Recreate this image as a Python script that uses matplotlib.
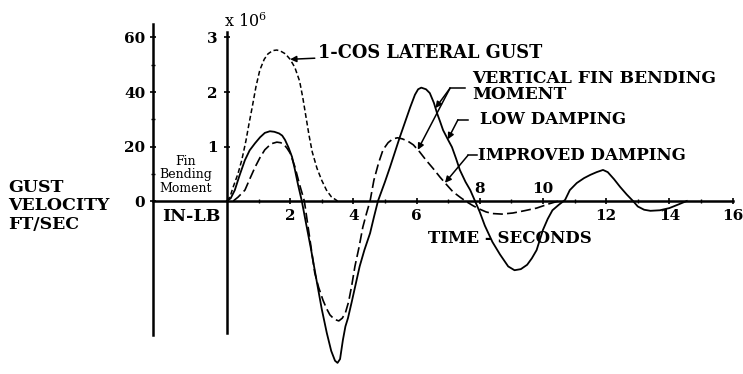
import numpy as np
import matplotlib
matplotlib.use('Agg')
import matplotlib.pyplot as plt

# 1-cos lateral gust, ft/sec
t_gust = [0, 0.1, 0.2, 0.35, 0.47, 0.6, 0.7, 0.8, 0.92, 1.04, 1.18, 1.3, 1.45, 1.58, 1.7,
          1.85, 2.0, 2.15, 2.3, 2.4, 2.5, 2.6, 2.7, 2.85, 3.0, 3.15, 3.3, 3.5]
gust_fps = [0, 1.6, 5.2, 10, 15, 22, 28.4, 34.4, 42, 48, 52, 54, 55.2, 55.4, 55,
            54, 52, 49, 44, 38, 31, 24, 18, 12, 7.6, 4, 1.6, 0]

# fin bending moment, x 10^6 in-lb, low damping
t_low = [0, 0.12, 0.25, 0.4, 0.57, 0.72, 0.89, 1.05, 1.2, 1.36, 1.5, 1.65, 1.75, 1.84,
         1.95, 2.06, 2.15, 2.25, 2.37, 2.5, 2.65, 2.85, 3.0, 3.16, 3.3, 3.42, 3.5, 3.58,
         3.67, 3.75, 3.83, 3.95, 4.2, 4.35, 4.53, 4.65, 4.78, 5.0, 5.16, 5.47, 5.8, 5.95,
         6.05, 6.15, 6.3, 6.42, 6.55, 6.65, 6.75, 6.84, 7.0, 7.12, 7.25, 7.37, 7.55, 7.7,
         7.85, 8.0, 8.16, 8.4, 8.64, 8.9, 9.1, 9.3, 9.5, 9.65, 9.8, 10.0, 10.15, 10.3,
         10.5, 10.7, 10.85, 11.07, 11.3, 11.5, 11.7, 11.9, 12.05, 12.25, 12.44, 12.65,
         12.85, 13.0, 13.2, 13.4, 13.7, 14.0, 14.3, 14.55]
m_low = [0, 0.05, 0.2, 0.47, 0.75, 0.93, 1.06, 1.17, 1.25, 1.28, 1.27, 1.24, 1.2, 1.12,
         0.98, 0.81, 0.58, 0.3, 0, -0.4, -0.85, -1.5, -1.98, -2.42, -2.75, -2.93, -2.97, -2.9,
         -2.55, -2.3, -2.15, -1.85, -1.2, -0.9, -0.59, -0.3, 0, 0.35, 0.62, 1.17, 1.72, 1.95,
         2.05, 2.08, 2.05, 1.98, 1.8, 1.61, 1.45, 1.3, 1.12, 0.99, 0.78, 0.57, 0.35, 0.2,
         0, -0.2, -0.45, -0.75, -0.98, -1.2, -1.27, -1.25, -1.17, -1.05, -0.9, -0.53, -0.33, -0.17,
         -0.07, 0.02, 0.2, 0.33, 0.42, 0.48, 0.53, 0.57, 0.53, 0.4, 0.26, 0.12,
         0, -0.1, -0.16, -0.18, -0.17, -0.13, -0.06, 0]

# fin bending moment, improved damping
t_imp = [0.2, 0.35, 0.57, 0.72, 0.89, 1.05, 1.2, 1.4, 1.58, 1.7, 1.8, 1.9, 2.0, 2.15, 2.3,
         2.45, 2.6, 2.78, 2.9, 3.04, 3.15, 3.26, 3.4, 3.54, 3.65, 3.75, 3.85, 3.95, 4.05,
         4.18, 4.3, 4.42, 4.53, 4.65, 4.8, 4.94, 5.1, 5.25, 5.4, 5.55, 5.72, 5.9, 6.1, 6.3,
         6.52, 6.74, 6.95, 7.15, 7.4, 7.6, 7.8, 8.0, 8.2, 8.4, 8.7, 9.05, 9.4, 9.8, 10.0,
         10.2, 10.5]
m_imp = [0, 0.07, 0.2, 0.4, 0.62, 0.8, 0.94, 1.05, 1.08, 1.07, 1.04, 0.97, 0.88, 0.63, 0.3,
         0, -0.6, -1.32, -1.58, -1.82, -1.97, -2.09, -2.17, -2.2, -2.15, -2.05, -1.85, -1.55, -1.2,
         -0.85, -0.48, -0.22, 0, 0.38, 0.7, 0.94, 1.07, 1.14, 1.16, 1.14, 1.1, 1.03, 0.9, 0.75,
         0.6, 0.44, 0.3, 0.17, 0.06, -0.02, -0.09, -0.15, -0.2, -0.23, -0.24, -0.22, -0.18, -0.13, -0.09,
         -0.05, 0]

time_ticks = [2, 4, 6, 8, 10, 12, 14, 16]
moment_ticks = [1, 2, 3]
gust_ticks = [0, 20, 40, 60]
FPS_PER_UNIT = 20.0   # 20 ft/sec on the gust scale lines up with 1 x 10^6 in-lb

plt.rcParams['font.family'] = 'DejaVu Serif'
plt.rcParams['mathtext.fontset'] = 'dejavuserif'

fig = plt.figure(figsize=(7.43, 3.74), dpi=100)
ax = fig.add_axes([0, 0, 1, 1])
ax.set_xlim(-7.18, 16.33)
ax.set_ylim(-3.174, 3.688)

ax.plot(t_gust, np.array(gust_fps) / FPS_PER_UNIT, color='k', lw=1.1, ls=(0, (3.2, 1.8)))
ax.plot(t_low, m_low, color='k', lw=1.3)
ax.plot(t_imp, m_imp, color='k', lw=1.2, ls=(0, (6, 2.5)))

# axes: moment axis at t=0, time axis at zero moment
for s in ['top', 'right']:
    ax.spines[s].set_visible(False)
ax.spines['left'].set_position(('data', 0))
ax.spines['bottom'].set_position(('data', 0))
ax.spines['left'].set_bounds(-2.42, 3.1)
ax.spines['bottom'].set_bounds(-2.34, 16.0)
ax.spines['left'].set_linewidth(1.8)
ax.spines['bottom'].set_linewidth(1.8)

ax.set_xticks(time_ticks)
ax.set_xticks(range(1, 16, 2), minor=True)
ax.set_xticklabels([str(t) if t not in (8, 10) else '' for t in time_ticks],
                   fontweight='bold', fontsize=11)
ax.set_yticks(moment_ticks)
ax.set_yticklabels([str(m) for m in moment_ticks], fontweight='bold', fontsize=11)
ax.tick_params(axis='both', which='major', direction='inout', length=5, width=1.2, pad=4)
ax.tick_params(axis='x', which='minor', direction='inout', length=3, width=1.0)
ax.tick_params(axis='x', which='major', pad=3)

for t in (8, 10):
    ax.text(t, 0.1, str(t), ha='center', va='bottom', fontweight='bold', fontsize=11)

# gust velocity scale on the far left
sec = ax.secondary_yaxis(153 / 743, functions=(lambda m: m * FPS_PER_UNIT,
                                               lambda v: v / FPS_PER_UNIT))
sec.spines['left'].set_bounds(-49, 65)
sec.spines['left'].set_linewidth(1.8)
sec.set_yticks(gust_ticks)
sec.set_yticks([10, 30, 50], minor=True)
sec.set_yticklabels([str(v) for v in gust_ticks], fontweight='bold', fontsize=11)
sec.tick_params(axis='y', which='major', direction='inout', length=5, width=1.2, pad=3)
sec.tick_params(axis='y', which='minor', direction='inout', length=3, width=1.0)

ax.text(-0.1, 3.12, r'x 10$^6$', ha='left', va='bottom', fontsize=11.5)
ax.text(-6.93, -0.09, 'GUST\nVELOCITY\nFT/SEC', ha='left', va='center',
        fontweight='bold', fontsize=12.5, linespacing=1.1)
ax.text(-1.3, 0.48, 'Fin\nBending\nMoment', ha='center', va='center', fontsize=9,
        linespacing=1.05)
ax.text(-2.05, -0.29, 'IN-LB', ha='left', va='center', fontweight='bold', fontsize=12.5)
ax.text(8.96, -0.68, 'TIME - SECONDS', ha='center', va='center', fontweight='bold',
        fontsize=12)

arrow = dict(arrowstyle='-|>', color='k', lw=1.1, shrinkA=0, shrinkB=0, mutation_scale=9)

ax.annotate('', xy=(2.0, np.interp(2.0, t_gust, gust_fps) / FPS_PER_UNIT),
            xytext=(2.78, 2.62), arrowprops=arrow)
ax.text(2.88, 2.72, '1-COS LATERAL GUST', ha='left', va='center', fontweight='bold',
        fontsize=12.8)

# leader lines to the two bending moment curves
elbow = (7.06, 2.07)
ax.plot([elbow[0], 7.53], [elbow[1], elbow[1]], color='k', lw=1.1)
ax.annotate('', xy=(6.6, np.interp(6.6, t_low, m_low)), xytext=elbow, arrowprops=arrow)
ax.annotate('', xy=(6.04, np.interp(6.04, t_imp, m_imp)), xytext=elbow, arrowprops=arrow)
ax.text(7.75, 2.1, 'VERTICAL FIN BENDING\nMOMENT', ha='left', va='center',
        fontweight='bold', fontsize=12.3, linespacing=0.95)

ax.plot([7.31, 7.63], [1.49, 1.49], color='k', lw=1.1)
ax.annotate('', xy=(6.99, np.interp(6.99, t_low, m_low)), xytext=(7.31, 1.49),
            arrowprops=arrow)
ax.text(8.0, 1.49, 'LOW DAMPING', ha='left', va='center', fontweight='bold', fontsize=12)

ax.plot([7.63, 7.9], [0.84, 0.84], color='k', lw=1.1)
ax.annotate('', xy=(6.9, np.interp(6.9, t_imp, m_imp)), xytext=(7.63, 0.84),
            arrowprops=arrow)
ax.text(7.94, 0.84, 'IMPROVED DAMPING', ha='left', va='center', fontweight='bold',
        fontsize=12)

fig.savefig('out.png', dpi=100, facecolor='white')
